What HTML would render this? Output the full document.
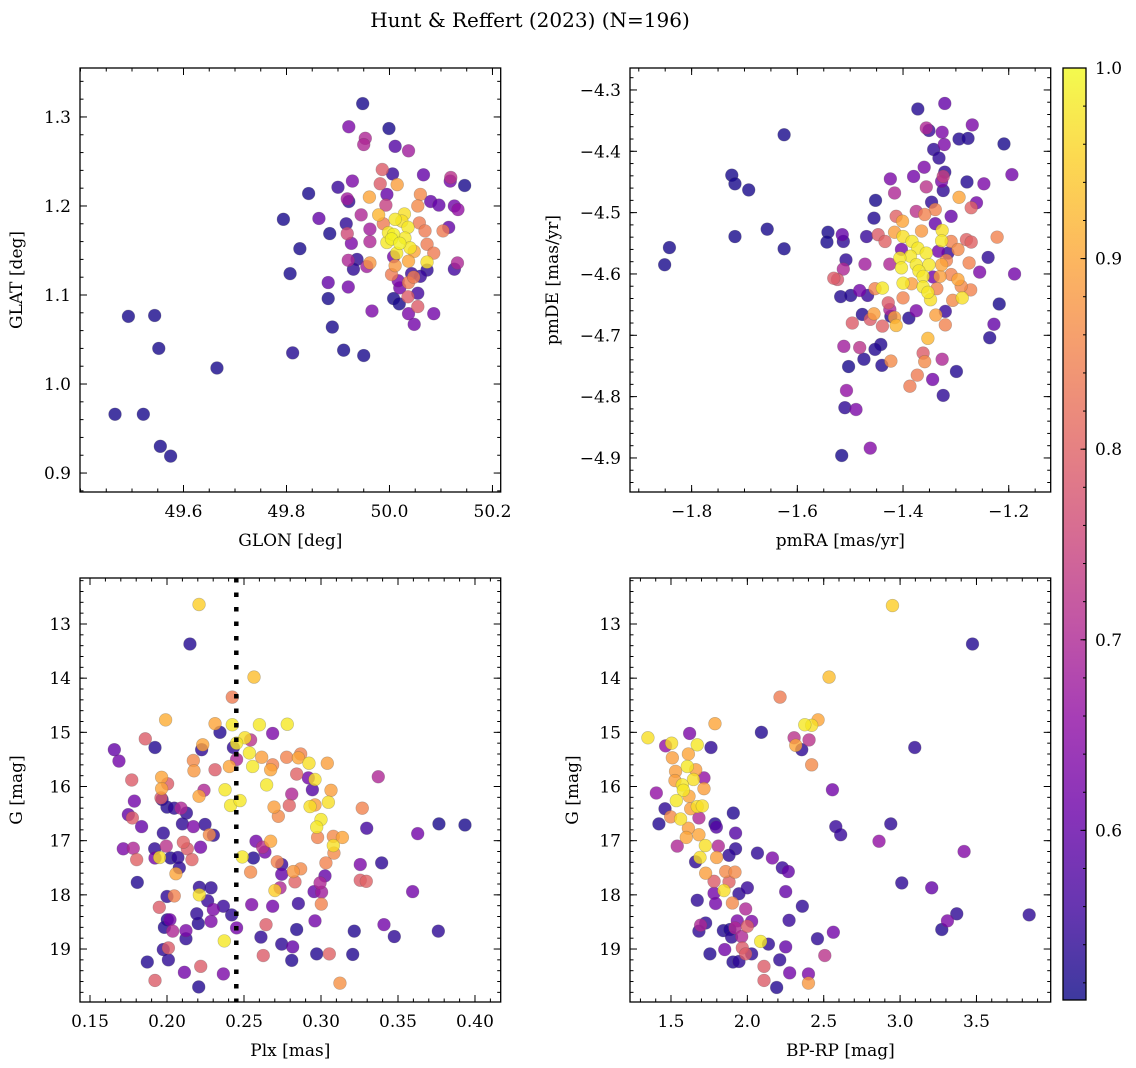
<!DOCTYPE html>
<html><head><meta charset="utf-8"><style>
body{margin:0;background:#fff;}
svg{display:block;font-family:"DejaVu Serif","Liberation Serif",serif;}
</style></head><body>
<svg id="fig" width="1136" height="1068" viewBox="0 0 1136 1068" xmlns="http://www.w3.org/2000/svg">
<defs>
<linearGradient id="plasmaGrad" x1="0" y1="1" x2="0" y2="0"></linearGradient>
</defs>
<text x="530" y="27" font-size="20" text-anchor="middle">Hunt &amp; Reffert (2023) (N=196)</text>
<g id="plots"></g>
</svg>
<script>
// ---- Data ----
// [glon, glat, prob]
const skyPoints = [
[49.948,1.315,0.52],[49.921,1.289,0.63],[49.999,1.287,0.52],[49.953,1.276,0.70],[49.950,1.269,0.70],
[50.011,1.267,0.58],[50.037,1.262,0.68],[49.986,1.241,0.79],[50.006,1.236,0.55],[50.066,1.235,0.60],
[50.119,1.232,0.72],[50.118,1.228,0.62],[50.146,1.223,0.52],[49.928,1.228,0.63],[49.982,1.225,0.79],
[50.015,1.224,0.89],[49.843,1.214,0.52],[49.900,1.221,0.55],[49.961,1.210,0.90],[50.060,1.213,0.86],
[49.995,1.213,0.60],[49.918,1.208,0.68],[49.921,1.205,0.54],[50.080,1.205,0.60],[50.096,1.201,0.60],
[50.055,1.200,0.86],[49.993,1.201,0.74],[50.126,1.200,0.62],[50.133,1.196,0.66],[49.945,1.190,0.70],
[49.979,1.190,0.92],[50.029,1.191,0.97],[49.794,1.185,0.52],[49.863,1.186,0.60],[49.916,1.180,0.54],
[50.011,1.185,0.98],[49.962,1.174,0.68],[49.988,1.180,0.84],[50.058,1.181,0.84],[50.115,1.176,0.60],
[50.104,1.172,0.84],[49.884,1.169,0.52],[49.918,1.169,0.76],[50.036,1.176,0.98],[50.069,1.172,0.84],
[50.008,1.168,0.99],[50.030,1.164,0.98],[49.926,1.158,0.63],[49.962,1.160,0.70],[49.995,1.159,0.98],
[50.004,1.163,0.99],[50.073,1.157,0.84],[49.826,1.152,0.52],[50.040,1.153,0.98],[50.014,1.147,0.98],
[50.086,1.147,0.84],[50.048,1.149,0.90],[49.937,1.140,0.54],[49.920,1.139,0.70],[50.008,1.143,0.62],
[49.962,1.136,0.88],[50.037,1.138,0.90],[50.073,1.137,0.97],[50.132,1.136,0.70],[49.956,1.132,0.68],
[49.930,1.129,0.54],[50.011,1.133,0.88],[50.073,1.128,0.54],[50.126,1.129,0.56],[49.807,1.124,0.52],
[50.004,1.123,0.84],[50.043,1.124,0.55],[50.060,1.121,0.55],[49.881,1.114,0.60],[49.920,1.109,0.62],
[50.017,1.116,0.63],[50.037,1.114,0.84],[50.047,1.120,0.84],[50.020,1.108,0.62],[50.055,1.102,0.56],
[50.036,1.098,0.79],[49.881,1.096,0.52],[50.008,1.096,0.52],[50.019,1.090,0.52],[50.055,1.087,0.79],
[49.966,1.082,0.63],[50.037,1.079,0.63],[50.086,1.079,0.62],[50.048,1.067,0.62],[49.889,1.064,0.52],
[49.493,1.076,0.52],[49.544,1.077,0.52],[49.552,1.040,0.52],[49.665,1.018,0.52],[49.812,1.035,0.53],
[49.911,1.038,0.52],[49.950,1.032,0.52],[49.467,0.966,0.52],[49.522,0.966,0.52],[49.555,0.930,0.52],
[49.575,0.919,0.52],[50.024,1.183,0.97],[49.998,1.170,0.98],[50.020,1.158,0.99]
];
// [pmra, pmde, prob]
const pmPoints = [
[-1.321,-4.322,0.60],[-1.372,-4.331,0.53],[-1.356,-4.362,0.70],[-1.351,-4.366,0.55],[-1.326,-4.369,0.63],
[-1.269,-4.357,0.63],[-1.294,-4.380,0.53],[-1.277,-4.379,0.53],[-1.322,-4.389,0.63],[-1.209,-4.388,0.52],
[-1.342,-4.397,0.54],[-1.332,-4.411,0.54],[-1.625,-4.373,0.52],[-1.724,-4.439,0.52],[-1.718,-4.453,0.52],
[-1.692,-4.463,0.52],[-1.360,-4.426,0.63],[-1.380,-4.441,0.62],[-1.321,-4.434,0.54],[-1.324,-4.441,0.74],
[-1.327,-4.449,0.63],[-1.324,-4.464,0.54],[-1.194,-4.438,0.62],[-1.279,-4.450,0.53],[-1.247,-4.453,0.63],
[-1.424,-4.445,0.63],[-1.416,-4.468,0.70],[-1.356,-4.458,0.72],[-1.294,-4.475,0.90],[-1.452,-4.480,0.52],
[-1.346,-4.483,0.54],[-1.261,-4.484,0.62],[-1.271,-4.492,0.80],[-1.375,-4.498,0.72],[-1.339,-4.495,0.85],
[-1.309,-4.506,0.60],[-1.455,-4.509,0.53],[-1.413,-4.506,0.80],[-1.401,-4.514,0.90],[-1.359,-4.503,0.85],
[-1.339,-4.518,0.60],[-1.326,-4.529,0.97],[-1.365,-4.530,0.88],[-1.657,-4.527,0.52],[-1.718,-4.539,0.52],
[-1.625,-4.559,0.52],[-1.842,-4.557,0.52],[-1.851,-4.585,0.52],[-1.542,-4.532,0.52],[-1.544,-4.548,0.52],
[-1.515,-4.536,0.60],[-1.513,-4.547,0.54],[-1.469,-4.539,0.55],[-1.447,-4.536,0.79],[-1.434,-4.547,0.80],
[-1.416,-4.532,0.89],[-1.400,-4.539,0.97],[-1.383,-4.547,0.98],[-1.372,-4.558,0.98],[-1.327,-4.546,0.98],
[-1.309,-4.547,0.85],[-1.280,-4.544,0.80],[-1.271,-4.548,0.80],[-1.222,-4.540,0.85],[-1.296,-4.560,0.86],
[-1.403,-4.560,0.62],[-1.356,-4.566,0.98],[-1.333,-4.563,0.62],[-1.315,-4.566,0.55],[-1.386,-4.571,0.98],
[-1.406,-4.574,0.98],[-1.508,-4.577,0.54],[-1.239,-4.573,0.54],[-1.472,-4.584,0.68],[-1.425,-4.584,0.70],
[-1.275,-4.582,0.85],[-1.375,-4.585,0.98],[-1.351,-4.585,0.98],[-1.327,-4.585,0.90],[-1.318,-4.578,0.85],
[-1.403,-4.590,0.98],[-1.370,-4.595,0.98],[-1.513,-4.592,0.70],[-1.255,-4.597,0.63],[-1.189,-4.600,0.62],
[-1.362,-4.604,0.98],[-1.330,-4.604,0.89],[-1.309,-4.601,0.85],[-1.531,-4.607,0.79],[-1.524,-4.609,0.78],
[-1.343,-4.605,0.62],[-1.296,-4.609,0.90],[-1.400,-4.615,0.98],[-1.384,-4.616,0.89],[-1.439,-4.623,0.98],
[-1.453,-4.624,0.85],[-1.362,-4.621,0.98],[-1.336,-4.624,0.85],[-1.272,-4.626,0.85],[-1.290,-4.620,0.86],
[-1.482,-4.627,0.62],[-1.518,-4.637,0.53],[-1.499,-4.635,0.53],[-1.467,-4.635,0.55],[-1.400,-4.639,0.85],
[-1.353,-4.630,0.98],[-1.348,-4.642,0.97],[-1.288,-4.639,0.97],[-1.306,-4.643,0.86],[-1.218,-4.649,0.52],
[-1.428,-4.647,0.79],[-1.425,-4.658,0.70],[-1.375,-4.660,0.63],[-1.320,-4.661,0.55],[-1.477,-4.666,0.53],
[-1.455,-4.665,0.89],[-1.462,-4.674,0.79],[-1.423,-4.669,0.53],[-1.416,-4.671,0.89],[-1.413,-4.684,0.92],
[-1.389,-4.672,0.53],[-1.338,-4.667,0.89],[-1.496,-4.680,0.79],[-1.439,-4.685,0.80],[-1.320,-4.683,0.85],
[-1.228,-4.682,0.60],[-1.236,-4.704,0.53],[-1.353,-4.705,0.92],[-1.512,-4.718,0.68],[-1.482,-4.720,0.72],
[-1.442,-4.715,0.53],[-1.453,-4.723,0.53],[-1.474,-4.739,0.53],[-1.503,-4.751,0.52],[-1.440,-4.749,0.53],
[-1.423,-4.742,0.86],[-1.362,-4.729,0.79],[-1.359,-4.743,0.86],[-1.326,-4.739,0.70],[-1.299,-4.759,0.53],
[-1.373,-4.765,0.84],[-1.387,-4.783,0.84],[-1.344,-4.772,0.62],[-1.324,-4.798,0.54],[-1.507,-4.790,0.66],
[-1.510,-4.818,0.54],[-1.489,-4.821,0.63],[-1.462,-4.884,0.64],[-1.516,-4.896,0.52]
];
// [plx, gmag, prob]
const plxPoints = [
[0.2208,12.64,0.95],[0.2149,13.37,0.53],[0.2565,13.98,0.93],[0.2424,14.35,0.84],[0.1991,14.77,0.91],
[0.2312,14.84,0.90],[0.2424,14.86,0.98],[0.2600,14.86,0.98],[0.2781,14.85,0.98],[0.2344,15.00,0.53],
[0.2686,15.02,0.63],[0.1859,15.12,0.79],[0.1922,15.28,0.53],[0.2232,15.23,0.90],[0.2225,15.32,0.54],
[0.2431,15.28,0.54],[0.2452,15.20,0.98],[0.2506,15.10,0.97],[0.2543,15.14,0.72],[0.2535,15.38,0.98],
[0.1658,15.32,0.60],[0.1688,15.53,0.62],[0.2171,15.52,0.86],[0.2175,15.71,0.88],[0.2312,15.69,0.79],
[0.2405,15.63,0.90],[0.2452,15.50,0.70],[0.2556,15.63,0.98],[0.2615,15.46,0.89],[0.2673,15.69,0.90],
[0.2686,15.60,0.85],[0.2777,15.46,0.85],[0.2853,15.47,0.90],[0.2868,15.40,0.85],[0.2922,15.57,0.97],
[0.3041,15.57,0.89],[0.2842,15.77,0.80],[0.1771,15.88,0.79],[0.1965,15.83,0.90],[0.2004,15.95,0.79],
[0.1965,16.04,0.90],[0.2647,15.97,0.98],[0.2918,15.84,0.62],[0.2961,15.87,0.97],[0.2944,16.06,0.58],
[0.3065,16.07,0.89],[0.3372,15.82,0.70],[0.2240,16.07,0.70],[0.2377,16.06,0.98],[0.2208,16.18,0.90],
[0.1961,16.21,0.79],[0.1788,16.27,0.62],[0.2810,16.14,0.70],[0.2413,16.35,0.98],[0.2474,16.26,0.98],
[0.1968,16.24,0.54],[0.2000,16.38,0.53],[0.2047,16.40,0.54],[0.2091,16.40,0.70],[0.2126,16.49,0.54],
[0.2695,16.38,0.89],[0.2794,16.35,0.80],[0.2929,16.37,0.97],[0.2961,16.34,0.89],[0.3048,16.29,0.97],
[0.3268,16.40,0.85],[0.2723,16.55,0.86],[0.3000,16.61,0.98],[0.1749,16.52,0.60],[0.1775,16.58,0.79],
[0.1835,16.74,0.60],[0.2100,16.69,0.54],[0.2171,16.74,0.63],[0.2247,16.70,0.54],[0.2972,16.75,0.98],
[0.3766,16.69,0.52],[0.3935,16.71,0.52],[0.3628,16.87,0.62],[0.3297,16.77,0.56],[0.1976,16.86,0.54],
[0.2275,16.89,0.86],[0.2301,16.90,0.54],[0.2978,16.94,0.85],[0.3080,16.92,0.86],[0.3139,16.94,0.90],
[0.2106,17.03,0.80],[0.2578,17.01,0.62],[0.2673,17.01,0.90],[0.3080,17.09,0.97],[0.1716,17.15,0.63],
[0.1781,17.14,0.70],[0.1803,17.35,0.80],[0.1922,17.32,0.62],[0.1920,17.15,0.54],[0.1952,17.31,0.97],
[0.1995,17.10,0.72],[0.2023,17.32,0.53],[0.2071,17.31,0.54],[0.2132,17.15,0.79],[0.2162,17.35,0.80],
[0.2218,17.12,0.62],[0.2489,17.30,0.98],[0.2561,17.32,0.53],[0.2621,17.12,0.72],[0.2636,17.21,0.62],
[0.3084,17.23,0.86],[0.2080,17.50,0.54],[0.2058,17.61,0.90],[0.2543,17.58,0.86],[0.2716,17.39,0.85],
[0.2745,17.44,0.55],[0.2745,17.62,0.60],[0.2820,17.57,0.88],[0.2868,17.52,0.86],[0.3032,17.41,0.85],
[0.3026,17.65,0.60],[0.3255,17.44,0.63],[0.3394,17.41,0.54],[0.1807,17.77,0.53],[0.2831,17.76,0.80],
[0.2994,17.78,0.70],[0.3255,17.73,0.79],[0.3294,17.75,0.80],[0.2734,17.87,0.70],[0.2701,17.92,0.95],
[0.2955,17.94,0.60],[0.3004,17.95,0.68],[0.3595,17.94,0.62],[0.2210,17.86,0.54],[0.2286,17.87,0.54],
[0.2000,18.03,0.54],[0.2047,18.02,0.85],[0.2210,18.00,0.97],[0.2264,18.11,0.55],[0.2550,18.18,0.63],
[0.2686,18.21,0.62],[0.2853,18.16,0.55],[0.3002,18.17,0.85],[0.1950,18.23,0.79],[0.2301,18.27,0.63],
[0.2366,18.21,0.55],[0.2420,18.37,0.54],[0.2193,18.35,0.54],[0.2019,18.46,0.62],[0.2002,18.46,0.53],
[0.2203,18.53,0.53],[0.2286,18.49,0.63],[0.1983,18.60,0.53],[0.2037,18.67,0.70],[0.2123,18.66,0.63],
[0.2452,18.61,0.62],[0.2643,18.55,0.79],[0.2961,18.48,0.62],[0.2842,18.64,0.53],[0.3216,18.67,0.53],
[0.3409,18.55,0.62],[0.3476,18.77,0.54],[0.3762,18.67,0.54],[0.2123,18.81,0.54],[0.2372,18.85,0.98],
[0.2610,18.78,0.54],[0.2745,18.91,0.54],[0.2816,18.96,0.60],[0.1976,19.01,0.54],[0.2009,18.98,0.79],
[0.1872,19.24,0.53],[0.2009,19.20,0.54],[0.2625,19.12,0.79],[0.2810,19.21,0.53],[0.2972,19.09,0.53],
[0.3054,19.09,0.80],[0.3206,19.10,0.53],[0.2219,19.32,0.79],[0.2113,19.43,0.62],[0.2366,19.46,0.63],
[0.1922,19.58,0.79],[0.2206,19.70,0.53],[0.3123,19.63,0.87]
];
// [bprp, gmag, prob]
const cmdPoints = [
[2.950,12.66,0.95],[3.474,13.37,0.53],[2.535,13.98,0.93],[2.214,14.35,0.84],[1.788,14.84,0.90],
[2.463,14.77,0.90],[2.376,14.86,0.98],[2.421,14.87,0.97],[1.349,15.10,0.97],[1.622,15.02,0.63],
[2.092,15.00,0.53],[1.465,15.25,0.66],[1.504,15.20,0.97],[1.672,15.23,0.98],[1.762,15.28,0.54],
[2.306,15.10,0.72],[2.404,15.14,0.72],[2.317,15.24,0.90],[2.356,15.32,0.54],[3.096,15.28,0.54],
[2.421,15.60,0.86],[1.509,15.47,0.89],[1.614,15.40,0.90],[1.607,15.63,0.98],[1.662,15.69,0.89],
[1.530,15.72,0.89],[1.526,15.89,0.89],[1.574,15.97,0.98],[1.647,15.87,0.97],[1.716,15.84,0.66],
[1.716,16.04,0.89],[1.404,16.12,0.66],[1.581,16.07,0.98],[1.618,16.18,0.90],[2.557,16.06,0.62],
[1.535,16.26,0.98],[1.672,16.37,0.97],[1.705,16.36,0.97],[1.461,16.41,0.54],[1.629,16.41,0.89],
[1.908,16.49,0.53],[1.421,16.69,0.53],[1.498,16.56,0.86],[1.563,16.60,0.97],[1.683,16.58,0.70],
[1.788,16.69,0.53],[1.797,16.75,0.58],[1.614,16.77,0.89],[1.923,16.86,0.58],[2.579,16.74,0.55],
[2.611,16.89,0.55],[2.939,16.69,0.54],[2.862,17.01,0.66],[3.419,17.20,0.64],[1.541,17.10,0.70],
[1.600,16.94,0.90],[1.683,16.89,0.90],[1.725,17.09,0.97],[1.810,17.10,0.70],[1.923,17.15,0.54],
[1.690,17.31,0.97],[1.799,17.31,0.89],[1.661,17.39,0.54],[1.880,17.27,0.54],[2.066,17.23,0.54],
[2.164,17.32,0.63],[2.229,17.50,0.55],[2.268,17.57,0.60],[1.727,17.60,0.89],[1.858,17.57,0.86],
[1.919,17.58,0.86],[1.782,17.75,0.79],[1.880,17.76,0.80],[3.011,17.78,0.54],[3.207,17.87,0.60],
[1.847,17.92,0.97],[2.000,17.87,0.55],[2.251,17.94,0.60],[1.782,17.97,0.62],[1.945,17.98,0.54],
[1.672,18.10,0.54],[1.792,18.16,0.62],[1.902,18.15,0.86],[2.360,18.21,0.54],[1.989,18.26,0.70],
[3.371,18.35,0.54],[3.310,18.48,0.63],[3.845,18.37,0.54],[3.273,18.64,0.53],[1.727,18.52,0.54],
[1.694,18.56,0.70],[1.683,18.67,0.54],[1.934,18.48,0.63],[2.028,18.49,0.63],[2.000,18.58,0.79],
[1.843,18.66,0.53],[1.886,18.64,0.53],[1.919,18.61,0.70],[1.897,18.78,0.54],[1.963,18.77,0.70],
[2.273,18.47,0.55],[2.563,18.69,0.62],[2.459,18.81,0.54],[2.087,18.86,0.98],[2.138,18.91,0.54],
[2.251,18.96,0.60],[1.755,19.09,0.53],[1.852,19.01,0.62],[1.967,18.98,0.79],[1.989,19.09,0.79],
[2.028,19.09,0.54],[1.906,19.24,0.53],[1.945,19.23,0.54],[2.212,19.20,0.54],[2.507,19.12,0.72],
[2.109,19.32,0.79],[2.277,19.44,0.62],[2.400,19.46,0.63],[2.109,19.58,0.79],[2.400,19.63,0.88],
[2.192,19.71,0.53]
];
const plxCut = [0.245];
const cbarTicks = [0.6, 0.7, 0.8, 0.9, 1.0];
const cbarRange = [0.511, 1.0];

// ---- Rendering ----
const NS = 'http://www.w3.org/2000/svg';
const FS = 17;
const plasma = ['#0d0887','#41049d','#6a00a8','#8f0da4','#b12a90','#cc4778','#e16462','#f2844b','#fca636','#fcce25','#f0f921'];
function hex(c){return [parseInt(c.slice(1,3),16),parseInt(c.slice(3,5),16),parseInt(c.slice(5,7),16)];}
function cmap(p){
  let t=(p-cbarRange[0])/(cbarRange[1]-cbarRange[0]); t=Math.max(0,Math.min(1,t));
  const f=t*10, i=Math.min(9,Math.floor(f)), r=f-i;
  const a=hex(plasma[i]), b=hex(plasma[i+1]);
  return 'rgb('+a.map((v,k)=>Math.round(v+(b[k]-v)*r)).join(',')+')';
}
function mk(tag, attrs, parent){
  const e=document.createElementNS(NS,tag);
  for(const k in attrs) e.setAttribute(k,attrs[k]);
  parent.appendChild(e); return e;
}
const root=document.getElementById('plots');

const panels=[
 {id:'sky', box:[80,68,500.7,492], xd:[49.399,50.216], yd:[1.355,0.8787], xt:[49.6,49.8,50.0,50.2], xdec:1, xmin:0.05, yt:[0.9,1.0,1.1,1.2,1.3], ydec:1, ymin:0.02, xl:'GLON [deg]', yl:'GLAT [deg]', pts:skyPoints},
 {id:'pm', box:[630,68,1050.7,492], xd:[-1.9166,-1.1206], yd:[-4.2642,-4.9555], xt:[-1.8,-1.6,-1.4,-1.2], xdec:1, xmin:0.05, yt:[-4.9,-4.8,-4.7,-4.6,-4.5,-4.4,-4.3], ydec:1, ymin:0.02, xl:'pmRA [mas/yr]', yl:'pmDE [mas/yr]', pts:pmPoints},
 {id:'plx', box:[80,578,500.7,1002], xd:[0.1435,0.4167], yd:[12.151,19.978], xt:[0.15,0.20,0.25,0.30,0.35,0.40], xdec:2, xmin:0.01, yt:[13,14,15,16,17,18,19], ydec:0, ymin:0.2, xl:'Plx [mas]', yl:'G [mag]', pts:plxPoints, vline:plxCut},
 {id:'cmd', box:[630,578,1050.7,1002], xd:[1.2317,3.986], yd:[12.151,19.978], xt:[1.5,2.0,2.5,3.0,3.5], xdec:1, xmin:0.1, yt:[13,14,15,16,17,18,19], ydec:0, ymin:0.2, xl:'BP-RP [mag]', yl:'G [mag]', pts:cmdPoints}
];
function fmt(v,d){return (v<0?'\u2212':'')+Math.abs(v).toFixed(d);}

panels.forEach(P=>{
  const [x0,y0,x1,y1]=P.box;
  const sx=v=>x0+(v-P.xd[0])/(P.xd[1]-P.xd[0])*(x1-x0);
  const sy=v=>y0+(v-P.yd[0])/(P.yd[1]-P.yd[0])*(y1-y0);
  const g=mk('g',{},root);
  
  
  const clipId='clip-'+P.id;
  const cp=mk('clipPath',{id:clipId},g);
  mk('rect',{x:x0,y:y0,width:x1-x0,height:y1-y0},cp);
  const pg=mk('g',{'clip-path':'url(#'+clipId+')'},g);
  
  
  const sorted=P.pts.slice().sort((a,b)=>a[2]-b[2]);
  sorted.forEach(d=>{
    const c=mk('circle',{cx:sx(d[0]),cy:sy(d[1]),r:6.4,fill:cmap(d[2]),'fill-opacity':0.8,stroke:'#555','stroke-opacity':0.35,'stroke-width':0.6},pg);
    
    
  });
  if(P.vline){
    P.vline.forEach(v=>{
      const l=mk('line',{x1:sx(v),x2:sx(v),y1:y0,y2:y1,stroke:'#000','stroke-width':4.5,'stroke-dasharray':'4.5 10'},pg);
      
      
    });
  }
  const tk=mk('g',{stroke:'#000','stroke-width':1},g);
  
  
  const lo=Math.min(P.xd[0],P.xd[1]), hi=Math.max(P.xd[0],P.xd[1]);
  for(let i=Math.ceil(lo/P.xmin-1e-6);i<=Math.floor(hi/P.xmin+1e-6);i++){
    const x=sx(i*P.xmin);
    mk('line',{x1:x,x2:x,y1:y1,y2:y1-3.5},tk); mk('line',{x1:x,x2:x,y1:y0,y2:y0+3.5},tk);
  }
  const ylo=Math.min(P.yd[0],P.yd[1]), yhi=Math.max(P.yd[0],P.yd[1]);
  for(let i=Math.ceil(ylo/P.ymin-1e-6);i<=Math.floor(yhi/P.ymin+1e-6);i++){
    const y=sy(i*P.ymin);
    mk('line',{x1:x0,x2:x0+3.5,y1:y,y2:y},tk); mk('line',{x1:x1,x2:x1-3.5,y1:y,y2:y},tk);
  }
  P.xt.forEach(v=>{
    const x=sx(v);
    mk('line',{x1:x,x2:x,y1:y1,y2:y1-7},tk); mk('line',{x1:x,x2:x,y1:y0,y2:y0+7},tk);
    const t=mk('text',{x:x,y:y1+25,'font-size':FS,'text-anchor':'middle'},g); t.textContent=fmt(v,P.xdec);
    
    
  });
  P.yt.forEach(v=>{
    const y=sy(v);
    mk('line',{x1:x0,x2:x0+7,y1:y,y2:y},tk); mk('line',{x1:x1,x2:x1-7,y1:y,y2:y},tk);
    const t=mk('text',{x:x0-9,y:y+6,'font-size':FS,'text-anchor':'end'},g); t.textContent=P.ydec?fmt(v,P.ydec):String(v);
    
    
  });
  const fr=mk('rect',{x:x0,y:y0,width:x1-x0,height:y1-y0,fill:'none',stroke:'#000','stroke-width':1.3},g);
  
  
  const xl=mk('text',{x:(x0+x1)/2,y:y1+54,'font-size':FS,'text-anchor':'middle'},g); xl.textContent=P.xl;
  
  
  const yx=(P.id==='sky'||P.id==='plx')?22:(P.id==='pm'?558:578);
  const yl=mk('text',{x:yx,y:(y0+y1)/2,'font-size':FS,'text-anchor':'middle',transform:'rotate(-90 '+yx+' '+((y0+y1)/2)+')'},g); yl.textContent=P.yl;
  
  
});

// colorbar
const grad=document.getElementById('plasmaGrad');
plasma.forEach((c,i)=>{mk('stop',{offset:(i/10),'stop-color':c,'stop-opacity':0.8},grad);});
const cb=mk('g',{},root);


const cx0=1063, cx1=1086, cy0=68, cy1=1000;
const cy=v=>cy1-(v-cbarRange[0])/(cbarRange[1]-cbarRange[0])*(cy1-cy0);
mk('rect',{x:cx0,y:cy0,width:cx1-cx0,height:cy1-cy0,fill:'#fff'},cb);
mk('rect',{x:cx0,y:cy0,width:cx1-cx0,height:cy1-cy0,fill:'url(#plasmaGrad)',stroke:'#000','stroke-width':1.3},cb);
for(let i=26;i<=50;i++){const y=cy(i*0.02); mk('line',{x1:cx1,x2:cx1-3,y1:y,y2:y,stroke:'#000','stroke-width':1},cb);}
cbarTicks.forEach(v=>{
  const y=cy(v);
  mk('line',{x1:cx1,x2:cx1-5.5,y1:y,y2:y,stroke:'#000','stroke-width':1},cb);
  const t=mk('text',{x:cx1+9,y:y+6,'font-size':FS},cb); t.textContent=v.toFixed(1);
  
  
});
</script>
</body></html>
